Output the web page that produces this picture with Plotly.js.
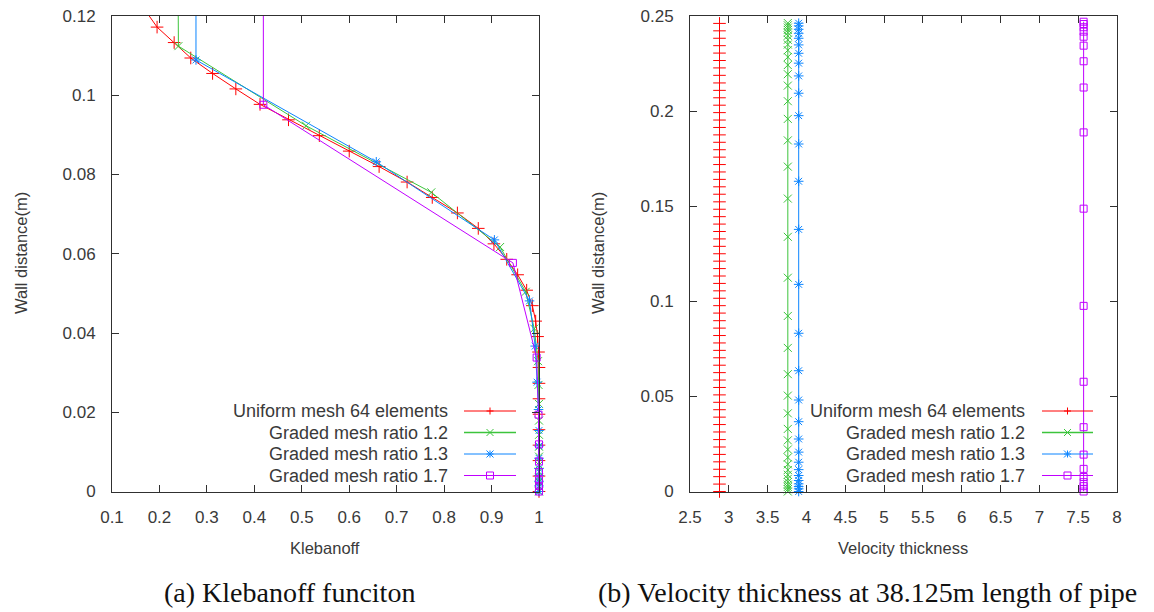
<!DOCTYPE html>
<html><head><meta charset="utf-8">
<script src="https://cdn.plot.ly/plotly-3.0.1.min.js"></script>
<style>html,body{margin:0;padding:0;background:#fff}#chart{width:1154px;height:612px}</style>
</head><body><div id="chart"></div>
<script>
// ---- Series names ----
const seriesNames = ["Uniform mesh 64 elements", "Graded mesh ratio 1.2", "Graded mesh ratio 1.3", "Graded mesh ratio 1.7"];

// ---- Uniform mesh (64 elements) ----
const uniformWallDist = [0, 0.0039, 0.0078, 0.0117, 0.0156, 0.0195, 0.0234, 0.0273, 0.0313, 0.0352,
  0.0391, 0.0430, 0.0469, 0.0508, 0.0547, 0.0586, 0.0625, 0.0664, 0.0703, 0.0742,
  0.0781, 0.0820, 0.0859, 0.0898, 0.0938, 0.0977, 0.1016, 0.1055, 0.1094, 0.1133,
  0.1172, 0.1211, 0.1250, 0.1289, 0.1328, 0.1367, 0.1406, 0.1445, 0.1484, 0.1523,
  0.1563, 0.1602, 0.1641, 0.1680, 0.1719, 0.1758, 0.1797, 0.1836, 0.1875, 0.1914,
  0.1953, 0.1992, 0.2031, 0.2070, 0.2109, 0.2148, 0.2188, 0.2227, 0.2266, 0.2305,
  0.2344, 0.2383, 0.2422, 0.2461];
const uniformKleb = [1, 1, 1, 1, 1, 1, 1, 1, 1, 0.999,
  0.997, 0.993, 0.986, 0.974, 0.955, 0.932, 0.905, 0.872, 0.828, 0.775,
  0.722, 0.663, 0.600, 0.537, 0.472, 0.412, 0.361, 0.312, 0.266, 0.231,
  0.195, 0.172];
const uniformVelThick = [2.88, 2.88, 2.88, 2.88, 2.88, 2.88, 2.88, 2.88, 2.88, 2.88,
  2.88, 2.88, 2.88, 2.88, 2.88, 2.88, 2.88, 2.88, 2.88, 2.88,
  2.88, 2.88, 2.88, 2.88, 2.88, 2.88, 2.88, 2.88, 2.88, 2.88,
  2.88, 2.88, 2.88, 2.88, 2.88, 2.88, 2.88, 2.88, 2.88, 2.88,
  2.88, 2.88, 2.88, 2.88, 2.88, 2.88, 2.88, 2.88, 2.88, 2.88,
  2.88, 2.88, 2.88, 2.88, 2.88, 2.88, 2.88, 2.88, 2.88, 2.88,
  2.88, 2.88, 2.88, 2.88];

// ---- Graded mesh ratio 1.2 ----
const graded12WallDist = [0, 0.0012, 0.0024, 0.0036, 0.0050, 0.0067, 0.0088, 0.0113, 0.0143, 0.0179,
  0.0221, 0.0269, 0.0329, 0.0411, 0.0504, 0.0617, 0.0755, 0.0923, 0.1124, 0.1339,
  0.1540, 0.1708, 0.1846, 0.1959, 0.2052, 0.2134, 0.2194, 0.2242, 0.2284, 0.2320,
  0.2350, 0.2375, 0.2396, 0.2413, 0.2427, 0.2439, 0.2451, 0.2463];
const graded12Kleb = [1, 1, 1, 1, 1, 1, 1, 1, 1, 1,
  1, 0.999, 0.998, 0.990, 0.972, 0.918, 0.773, 0.509, 0.240, 0.239];
const graded12VelThick = [3.76, 3.76, 3.76, 3.76, 3.76, 3.76, 3.76, 3.76, 3.76, 3.76,
  3.76, 3.76, 3.76, 3.76, 3.76, 3.76, 3.76, 3.76, 3.76, 3.76,
  3.76, 3.76, 3.76, 3.76, 3.76, 3.76, 3.76, 3.76, 3.76, 3.76,
  3.76, 3.76, 3.76, 3.76, 3.76, 3.76, 3.76, 3.76];

// ---- Graded mesh ratio 1.3 ----
const graded13WallDist = [0, 0.0014, 0.0026, 0.0040, 0.0058, 0.0084, 0.0115, 0.0154, 0.0207, 0.0276,
  0.0367, 0.0481, 0.0635, 0.0832, 0.1089, 0.1378, 0.1631, 0.1827, 0.1976, 0.2094,
  0.2185, 0.2252, 0.2304, 0.2348, 0.2383, 0.2409, 0.2430, 0.2448, 0.2462];
const graded13Kleb = [1, 1, 1, 1, 1, 1, 1, 1, 0.999, 0.996,
  0.992, 0.980, 0.906, 0.657, 0.277, 0.277];
const graded13VelThick = [3.90, 3.90, 3.90, 3.90, 3.90, 3.90, 3.90, 3.90, 3.90, 3.90,
  3.90, 3.90, 3.90, 3.90, 3.90, 3.90, 3.90, 3.90, 3.90, 3.90,
  3.90, 3.90, 3.90, 3.90, 3.90, 3.90, 3.90, 3.90, 3.90];

// ---- Graded mesh ratio 1.7 ----
const graded17WallDist = [0, 0.0014, 0.0028, 0.0049, 0.0076, 0.0119, 0.0194, 0.0338, 0.0577, 0.0976,
  0.1487, 0.1888, 0.2124, 0.2262, 0.2344, 0.2391, 0.2418, 0.2441, 0.2458, 0.2470];
const graded17Kleb = [1, 1, 1, 1, 1, 1, 0.999, 0.995, 0.945, 0.419, 0.419];
const graded17VelThick = [7.57, 7.57, 7.57, 7.57, 7.57, 7.57, 7.57, 7.57, 7.57, 7.57,
  7.57, 7.57, 7.57, 7.57, 7.57, 7.57, 7.57, 7.57, 7.57, 7.57];

// ---- Text ----
const xTitleLeft = "Klebanoff";
const xTitleRight = "Velocity thickness";
const yTitle = "Wall distance(m)";
const captionLeft = "(a) Klebanoff funciton";
const captionRight = "(b) Velocity thickness at 38.125m length of pipe";

// ---- Styles ----
const W = 1154, H = 612;
const colors = ["#ff0000", "#3cc43c", "#0a84ff", "#c000ff"];
const symbols = ["cross-thin", "x-thin", "asterisk", "square-open"];
const msizes = [9, 8, 8, 7];
const px = v => v / W;
const py = v => 1 - v / H;

const left = [[uniformKleb, uniformWallDist], [graded12Kleb, graded12WallDist], [graded13Kleb, graded13WallDist], [graded17Kleb, graded17WallDist]];
const right = [[uniformVelThick, uniformWallDist], [graded12VelThick, graded12WallDist], [graded13VelThick, graded13WallDist], [graded17VelThick, graded17WallDist]];

const traces = [];
function addSeries(pairs, xa, ya) {
  pairs.forEach((p, i) => {
    const n = p[0].length;
    traces.push({
      x: p[0], y: p[1].slice(0, n), xaxis: xa, yaxis: ya, type: "scatter",
      mode: "lines+markers", name: seriesNames[i], showlegend: false, cliponaxis: false,
      line: {color: colors[i], width: 1},
      marker: {symbol: symbols[i], size: msizes[i], color: colors[i], line: {color: colors[i], width: 1}}
    });
  });
}
addSeries(left, "x", "y");
addSeries(right, "x2", "y2");

const fontTick = {family: "Liberation Sans, Arial, sans-serif", size: 17, color: "#3a3a3a"};
const axBase = {showline: true, linecolor: "#303030", linewidth: 1, mirror: "ticks", ticks: "inside",
  ticklen: 7, tickcolor: "#303030", tickwidth: 1, showgrid: false, zeroline: false, tickfont: fontTick, fixedrange: true};

const yTop = 16, yBot = 491.5;
const layout = {
  width: W, height: H, margin: {l: 0, r: 0, t: 0, b: 0}, paper_bgcolor: "#fff", plot_bgcolor: "#fff",
  showlegend: false,
  xaxis: Object.assign({}, axBase, {domain: [px(112), px(539)], range: [0.1, 1], dtick: 0.1, tick0: 0.1, anchor: "y", ticklabelstandoff: 10}),
  yaxis: Object.assign({}, axBase, {domain: [py(yBot), py(yTop)], range: [0, 0.12], dtick: 0.02, anchor: "x", ticklabelstandoff: 12}),
  xaxis2: Object.assign({}, axBase, {domain: [px(690), px(1117)], range: [2.5, 8], dtick: 0.5, tick0: 2.5, anchor: "y2", ticklabelstandoff: 10}),
  yaxis2: Object.assign({}, axBase, {domain: [py(yBot), py(yTop)], range: [0, 0.25], dtick: 0.05, anchor: "x2", ticklabelstandoff: 12}),
  annotations: [], shapes: []
};

const fontTitle = {family: "Liberation Sans, Arial, sans-serif", size: 16.5, color: "#3a3a3a"};
const ann = (x, y, text, font, extra) => Object.assign({xref: "paper", yref: "paper", x: px(x), y: py(y), text: text, showarrow: false, font: font, xanchor: "center", yanchor: "middle"}, extra || {});
layout.annotations.push(ann(325, 548, xTitleLeft, fontTitle));
layout.annotations.push(ann(903, 548, xTitleRight, fontTitle));
layout.annotations.push(ann(21, 253, yTitle, fontTitle, {textangle: -90}));
layout.annotations.push(ann(598, 253, yTitle, fontTitle, {textangle: -90}));
const fontCap = {family: "Liberation Serif, Times New Roman, serif", size: 28, color: "#111"};
layout.annotations.push(ann(289, 592, captionLeft, fontCap));
layout.annotations.push(ann(867, 592, captionRight, fontCap));

// Legends (gnuplot style: text right-aligned, sample on the right)
const fontLeg = {family: "Liberation Sans, Arial, sans-serif", size: 18, color: "#3a3a3a"};
function legend(textRight, lineL, lineR, rows) {
  rows.forEach((ry, i) => {
    layout.annotations.push(ann(textRight, ry, seriesNames[i], fontLeg, {xanchor: "right"}));
    const c = colors[i];
    const ln = {color: c, width: i === 1 ? 1.5 : 1};
    layout.shapes.push({type: "line", xref: "paper", yref: "paper", x0: px(lineL), x1: px(lineR), y0: py(ry), y1: py(ry), line: ln});
    const mx = (lineL + lineR) / 2, r = 3.5;
    const seg = (x0, y0, x1, y1) => layout.shapes.push({type: "line", xref: "paper", yref: "paper", x0: px(x0), x1: px(x1), y0: py(y0), y1: py(y1), line: {color: c, width: 1}});
    if (i === 0) { seg(mx - r, ry, mx + r, ry); seg(mx, ry - r, mx, ry + r); }
    if (i === 1) { seg(mx - r, ry - r, mx + r, ry + r); seg(mx - r, ry + r, mx + r, ry - r); }
    if (i === 2) { seg(mx - r, ry, mx + r, ry); seg(mx, ry - r, mx, ry + r); seg(mx - r, ry - r, mx + r, ry + r); seg(mx - r, ry + r, mx + r, ry - r); }
    if (i === 3) { layout.shapes.push({type: "rect", xref: "paper", yref: "paper", x0: px(mx - r), x1: px(mx + r), y0: py(ry - r), y1: py(ry + r), line: {color: c, width: 1}, fillcolor: "rgba(0,0,0,0)"}); }
  });
}
legend(450, 464, 516, [411, 432.5, 454, 475.5]);
legend(1027, 1042, 1093, [411, 432.5, 454, 475.5]);

Plotly.newPlot("chart", traces, layout, {staticPlot: true, displayModeBar: false});
</script></body></html>
